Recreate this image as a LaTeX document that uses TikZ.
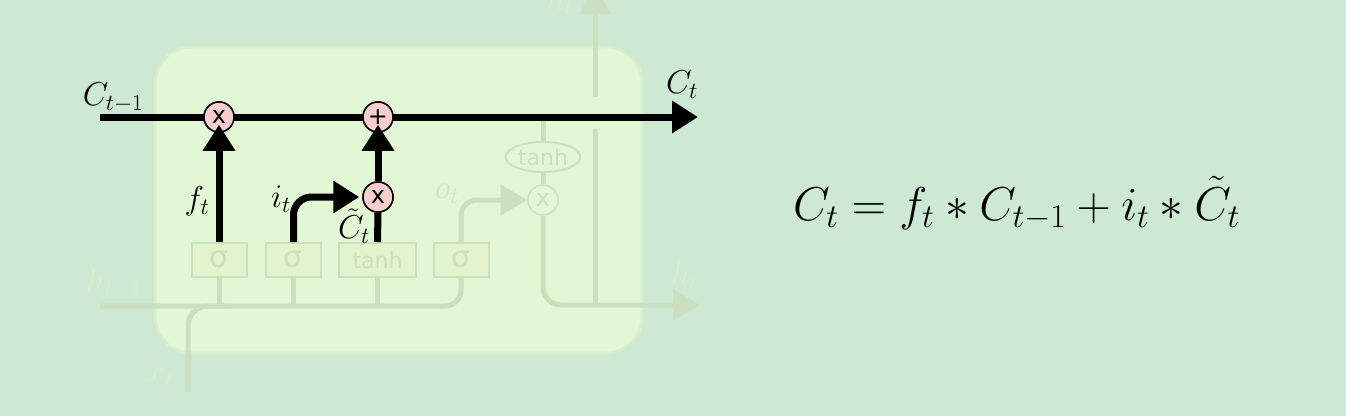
\RequirePackage{fix-cm}
\documentclass[tikz,border=0pt]{standalone}
\usepackage{fontspec}
\newfontfamily\dejavu{DejaVu Sans}
\usetikzlibrary{arrows.meta,shapes.geometric}
\definecolor{bgc}{RGB}{205,232,211}
\definecolor{boxfill}{RGB}{226,247,212}
\definecolor{boxline}{RGB}{217,238,202}
\definecolor{fade}{RGB}{202,224,192}
\definecolor{fadetext}{RGB}{219,237,199}
\definecolor{fadetextin}{RGB}{210,229,199}
\definecolor{gatefill}{RGB}{227,243,204}
\definecolor{pinkc}{RGB}{248,206,205}
\tikzset{
  lab/.style={font=\fontsize{33}{38}\selectfont, inner sep=0pt},
  fadelab/.style={lab, text=fadetext},
  fadelabin/.style={lab, text=fadetextin},
  op/.style={circle, draw=black, line width=1.5pt, fill=pinkc, minimum size=30pt, inner sep=0pt, font=\dejavu\fontsize{24}{24}\selectfont},
  fadeop/.style={circle, draw=fade, line width=1.5pt, fill=boxfill, minimum size=30pt, inner sep=0pt, text=fade, font=\dejavu\fontsize{24}{24}\selectfont},
  gate/.style={rectangle, draw=fade, line width=2pt, fill=gatefill, minimum width=55pt, minimum height=34pt, inner sep=0pt, text=fade},
  sig/.style={gate, font=\dejavu\fontsize{30}{30}\selectfont},
  tnh/.style={gate, minimum width=77pt, font=\dejavu\fontsize{22}{22}\selectfont},
  fline/.style={draw=fade, line width=5pt},
  bline/.style={draw=black, line width=7pt},
  btip/.style={-{Triangle[length=26pt,width=31pt]}},
  ftip/.style={-{Triangle[length=27pt,width=30pt]}}
}
\begin{document}
\begin{tikzpicture}[x=1pt,y=-1pt]
\useasboundingbox (0,0) rectangle (1346,416);
\clip (0,0) rectangle (1346,416);
\fill[bgc] (0,0) rectangle (1346,416);
% cell box
\draw[fill=boxfill, draw=boxline, line width=3pt, rounded corners=36pt] (155,47) rectangle (642,353);
% gates
\node[sig] (g1) at (219,260) {σ};
\node[sig] (g2) at (293.5,260) {σ};
\node[tnh] (g3) at (377.5,260) {tanh};
\node[sig] (g4) at (461,260) {σ};
\node[fadeop] (m3) at (543,200) {x};
\node[ellipse, draw=fade, line width=2pt, fill=boxfill, minimum width=75pt, minimum height=30pt, inner sep=0pt, text=fade, font=\dejavu\fontsize{22}{22}\selectfont] (th) at (543,157) {tanh};
% coordinates
\coordinate (hin) at (100,306);
\coordinate (xin) at (188,392);
\coordinate (hj) at (230,306);
\coordinate (g1b) at (219,306);
\coordinate (g2b) at (293.5,306);
\coordinate (g3b) at (377.5,306);
\coordinate (cellth) at (543,117);
\coordinate (hout) at (700,305);
\coordinate (upbot) at (595,305);
\coordinate (uplow) at (595,131);
\coordinate (uphigh) at (595,97);
\coordinate (uptop) at (595,-13);
% faded lines
\draw[fline, rounded corners=16pt] (hin) -- (461,306) -- (g4.south);
\draw[fline, rounded corners=20pt] (xin) -- (188,306) -- (hj);
\draw[fline] (g1.south) -- (g1b);
\draw[fline] (g2.south) -- (g2b);
\draw[fline] (g3.south) -- (g3b);
\draw[fline, ftip, rounded corners=16pt] (g4.north) -- (461,200) -- (m3.west);
\draw[fline] (cellth) -- (th.north);
\draw[fline] (th.south) -- (m3.north);
\draw[fline, ftip, rounded corners=18pt] (m3.south) -- (543,305) -- (hout);
\draw[fline, line cap=round] (upbot) -- (uplow);
\draw[fline, ftip] (uphigh) -- (uptop);
% faded labels
\node[fadelab] (lh1) at (114,283) {$h_{t-1}$};
\node[fadelab] (lx) at (160,377) {$x_t$};
\node[fadelabin] (lo) at (447,194) {$o_t$};
\node[fadelab] (lhr) at (685,276) {$h_t$};
\node[fadelab, anchor=base] (lht) at (560,10) {$h_t$};
% cell state
\coordinate (cin) at (100,117);
\coordinate (cout) at (698,117);
\node[op] (m1) at (219,117) {x};
\node[op] (p1) at (378,117) {+};
\node[op] (m2) at (378,197) {x};
\draw[bline, btip] (cin) -- (m1.west) -- (p1.west) -- (cout);
\node[op] at (219,117) {x};
\node[op] at (378,117) {+};
\draw[bline, btip] (g1.north) -- ([yshift=8pt]m1.south);
\draw[bline, btip] (m2.north) -- ([yshift=8pt]p1.south);
\draw[bline, btip, rounded corners=18pt] (g2.north) -- (293.5,197) -- ([xshift=-3pt]m2.west);
\draw[bline] (g3.north) -- (m2.south);
\node[op] at (378,197) {x};
% labels
\node[lab] (lc1) at (113,98) {$C_{t-1}$};
\node[lab] (lct) at (682,85) {$C_t$};
\node[lab] (lf) at (197,201) {$f_t$};
\node[lab] (li) at (281,199) {$i_t$};
\node[lab] (lcc) at (354,226) {$\tilde{C}_t$};
% equation
\node[anchor=base west, inner sep=0pt, font=\fontsize{47.5}{55}\selectfont] (eq) at (793,220) {$C_t = f_t * C_{t-1} + i_t * \tilde{C}_t$};
\end{tikzpicture}
\end{document}
